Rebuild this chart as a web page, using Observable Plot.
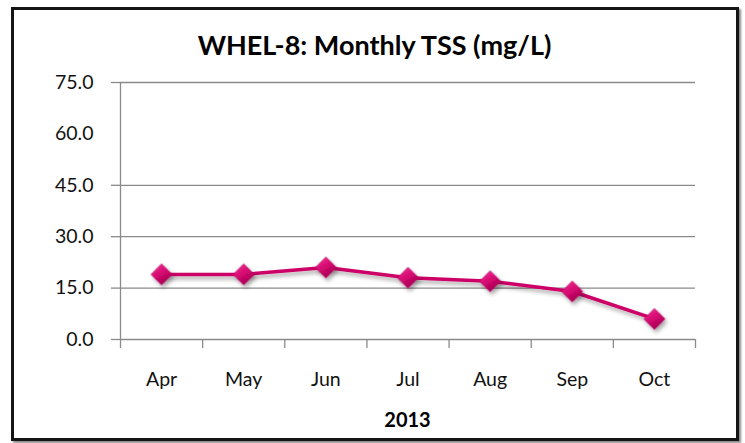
<!DOCTYPE html>
<html><head><meta charset="utf-8">
<script src="https://cdn.jsdelivr.net/npm/d3@7"></script>
<script src="https://cdn.jsdelivr.net/npm/@observablehq/plot@0.6"></script>
<style>
body{margin:0;background:#fff;}
#wrap{position:relative;width:745px;height:443px;font-family:Lato, "Open Sans", sans-serif;overflow:hidden;}
#frame{position:absolute;left:11px;top:7px;width:722px;height:428px;border:3px solid #151515;box-shadow:2px 2px 2px #888;}
#title{position:absolute;left:0;width:749px;top:28px;text-align:center;font-size:27px;font-weight:bold;color:#000;}
#xlabel{position:absolute;left:120px;width:575px;top:407px;text-align:center;font-size:20px;font-weight:bold;color:#000;}
#chart{position:absolute;left:0;top:0;}
</style>
</head><body>
<div id="wrap">
  <div id="frame"></div>
  <div id="chart"></div>
  <div id="title">WHEL-8: Monthly TSS (mg/L)</div>
  <div id="xlabel">2013</div>
</div>
<script>
const months = ["Apr", "May", "Jun", "Jul", "Aug", "Sep", "Oct"];
const tss = [19, 19, 21, 18, 17, 14, 6];
const yTicks = [0, 15, 30, 45, 60, 75];
const gridTicks = [0, 15, 30, 45, 75];
const xTitle = "2013";

const data = months.map((m, i) => ({i, m, v: tss[i]}));
const bounds = d3.range(months.length + 1).map(k => k - 0.5);
const gridColor = "#8a8a8a";

const chart = Plot.plot({
  width: 745,
  height: 443,
  marginLeft: 120,
  marginRight: 50,
  marginTop: 82,
  marginBottom: 104,
  style: {fontFamily: "Lato, 'Open Sans', sans-serif", fontSize: "19.5px", color: "#111", background: "transparent", overflow: "visible"},
  x: {type: "linear", domain: [-0.5, months.length - 0.5], label: null},
  y: {domain: [0, 75], label: null},
  marks: [
    Plot.gridY(gridTicks, {stroke: gridColor, strokeOpacity: 1, strokeWidth: 1.3}),
    Plot.axisY(gridTicks, {tickSize: 9, tickFormat: () => "", stroke: gridColor, strokeWidth: 1.3, label: null}),
    Plot.axisY(yTicks, {tickSize: 0, tickPadding: 27, tickFormat: d => d.toFixed(1), label: null, fill: "#111"}),
    Plot.ruleX([-0.5], {stroke: gridColor, strokeWidth: 1.3}),
    Plot.axisX(bounds, {tickSize: 9, tickFormat: () => "", stroke: gridColor, strokeWidth: 1.3, label: null}),
    Plot.axisX(d3.range(months.length), {tickSize: 0, tickPadding: 33, tickFormat: i => months[i], label: null, fill: "#111"}),
    Plot.line(data, {x: "i", y: "v", stroke: "#cc0066", strokeWidth: 3.5}),
    Plot.dot(data, {x: "i", y: "v", symbol: "diamond2", r: 9.5, fill: "url(#dg)", stroke: "#b3005e", strokeWidth: 0.6})
  ]
});

const svg = d3.select(chart);
const defs = svg.insert("defs", ":first-child");
const g = defs.append("linearGradient").attr("id", "dg").attr("x1", 0).attr("y1", 0).attr("x2", 0.6).attr("y2", 1);
g.append("stop").attr("offset", "0%").attr("stop-color", "#f2429c");
g.append("stop").attr("offset", "50%").attr("stop-color", "#d90a74");
g.append("stop").attr("offset", "100%").attr("stop-color", "#a3004f");
const f = defs.append("filter").attr("id", "sh").attr("x", "-50%").attr("y", "-50%").attr("width", "200%").attr("height", "200%");
f.append("feDropShadow").attr("dx", 2).attr("dy", 3).attr("stdDeviation", 2).attr("flood-color", "#000").attr("flood-opacity", 0.35);
svg.selectAll("g[aria-label='dot']").attr("filter", "url(#sh)");
svg.selectAll("g[aria-label='line']").attr("filter", "url(#sh)");

document.getElementById("chart").appendChild(chart);
document.getElementById("xlabel").textContent = xTitle;
</script>
</body></html>
